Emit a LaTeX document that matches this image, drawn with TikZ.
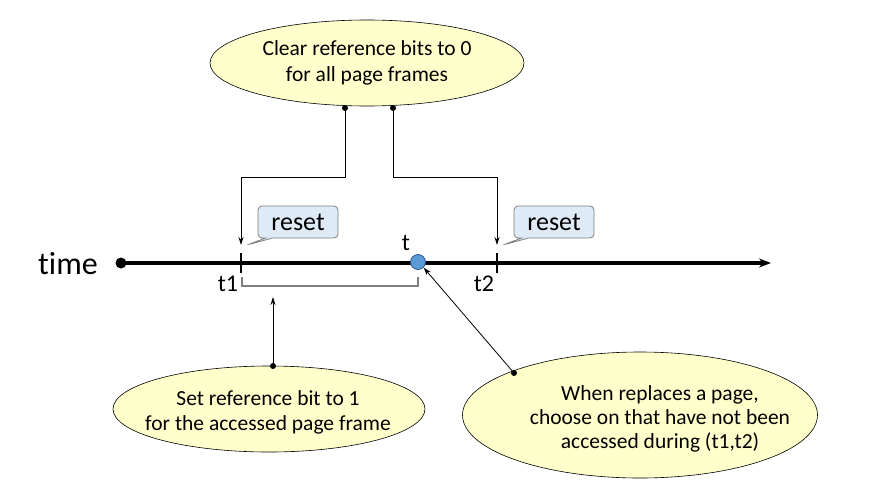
\documentclass[tikz,border=0pt]{standalone}
\usepackage{fontspec}
\setmainfont[Ligatures=NoCommon]{Carlito}
\usetikzlibrary{shapes.geometric,shapes.callouts,arrows.meta}
\definecolor{ellfill}{HTML}{FFFFCC}
\definecolor{callfill}{HTML}{DEEBF7}
\definecolor{callborder}{HTML}{7F7F7F}
\definecolor{tblue}{HTML}{5B9BD5}
\definecolor{tblueb}{HTML}{2F5597}
\tikzset{
  ell/.style={ellipse, draw=black, line width=0.6pt, fill=ellfill, inner sep=0pt},
  elltext/.style={align=center, font=\fontsize{21.5}{25}\selectfont, inner sep=0pt},
  resetbox/.style={rectangle callout, rounded corners=4pt, draw=callborder, fill=callfill, line width=0.8pt, minimum width=80pt, minimum height=32pt, font=\fontsize{26}{28}\selectfont, inner sep=0pt},
  conn/.style={line width=0.8pt, -{Stealth[length=8pt,width=5pt]}},
  bdot/.style={circle, fill=black, inner sep=0pt, minimum size=7pt},
  lbl/.style={font=\fontsize{24}{26}\selectfont, inner sep=0pt}
}
\begin{document}
\begin{tikzpicture}[x=1pt,y=-1pt]
\useasboundingbox (0,0) rectangle (870,498);
% top ellipse
\node[ell, minimum width=314pt, minimum height=86pt] (top) at (367,63) {};
\node[elltext, font=\fontsize{21.5}{26}\selectfont] (toptext) at (top.center) {Clear reference bits to 0\\for all page frames};
\node[bdot, minimum size=6pt] (d1) at (345,108) {};
\node[bdot, minimum size=6pt] (d2) at (393,108) {};
% timeline
\node[bdot, minimum size=11pt] (ts) at (121,263) {};
\coordinate (te) at (771,263);
\draw[line width=3.5pt, -{Stealth[length=12pt,width=9pt]}] (ts.center) -- (te);
% ticks
\coordinate (t1) at (241,263);
\coordinate (t2) at (497,263);
\draw[line width=2pt] ([yshift=-10pt]t1) -- ([yshift=10pt]t1);
\draw[line width=2pt] ([yshift=-10pt]t2) -- ([yshift=10pt]t2);
\coordinate (a1) at (241,245);
\coordinate (a2) at (497,245);
% connectors from top ellipse
\draw[conn] (d1.center) |- (241,177) -- (a1);
\draw[conn] (d2.center) |- (497,177) -- (a2);
% labels
\node[font=\fontsize{32}{34}\selectfont, inner sep=0pt] (time) at (68,264) {time};
\node[lbl] (lt1) at (228,284) {t1};
\node[lbl] (lt2) at (484,284) {t2};
\node[lbl] (lt) at (406,243) {t};
% t circle
\node[circle, draw=tblueb, fill=tblue, line width=0.8pt, minimum size=15pt, inner sep=0pt] (tc) at (418,262) {};
% bracket
\draw[callborder, line width=1.2pt] (242,277) -- (242,286) -- (418,286) -- (418,277);
% reset callouts
\node[resetbox, callout absolute pointer={(247,245)}] (r1) at (298,222) {reset};
\node[resetbox, callout absolute pointer={(503,245)}] (r2) at (554,222) {reset};
% bottom-left ellipse
\node[ell, minimum width=312pt, minimum height=86pt] (bl) at (269,409) {};
\node[elltext] (bltext) at (268,412) {Set reference bit to 1\\for the accessed page frame};
\node[bdot, minimum size=6pt] (d3) at (273,366) {};
\draw[conn] (d3.center) -- (273,297);
% bottom-right ellipse
\node[ell, minimum width=355pt, minimum height=126pt] (brl) at (640,415) {};
\node[elltext, font=\fontsize{21.5}{24}\selectfont] (brtext) at (660,419) {When replaces a page,\\choose on that have not been\\accessed during (t1,t2)};
\node[bdot, minimum size=6pt] (d4) at (514,373) {};
\draw[conn] (d4.center) -- (tc.south east);
\end{tikzpicture}
\end{document}
